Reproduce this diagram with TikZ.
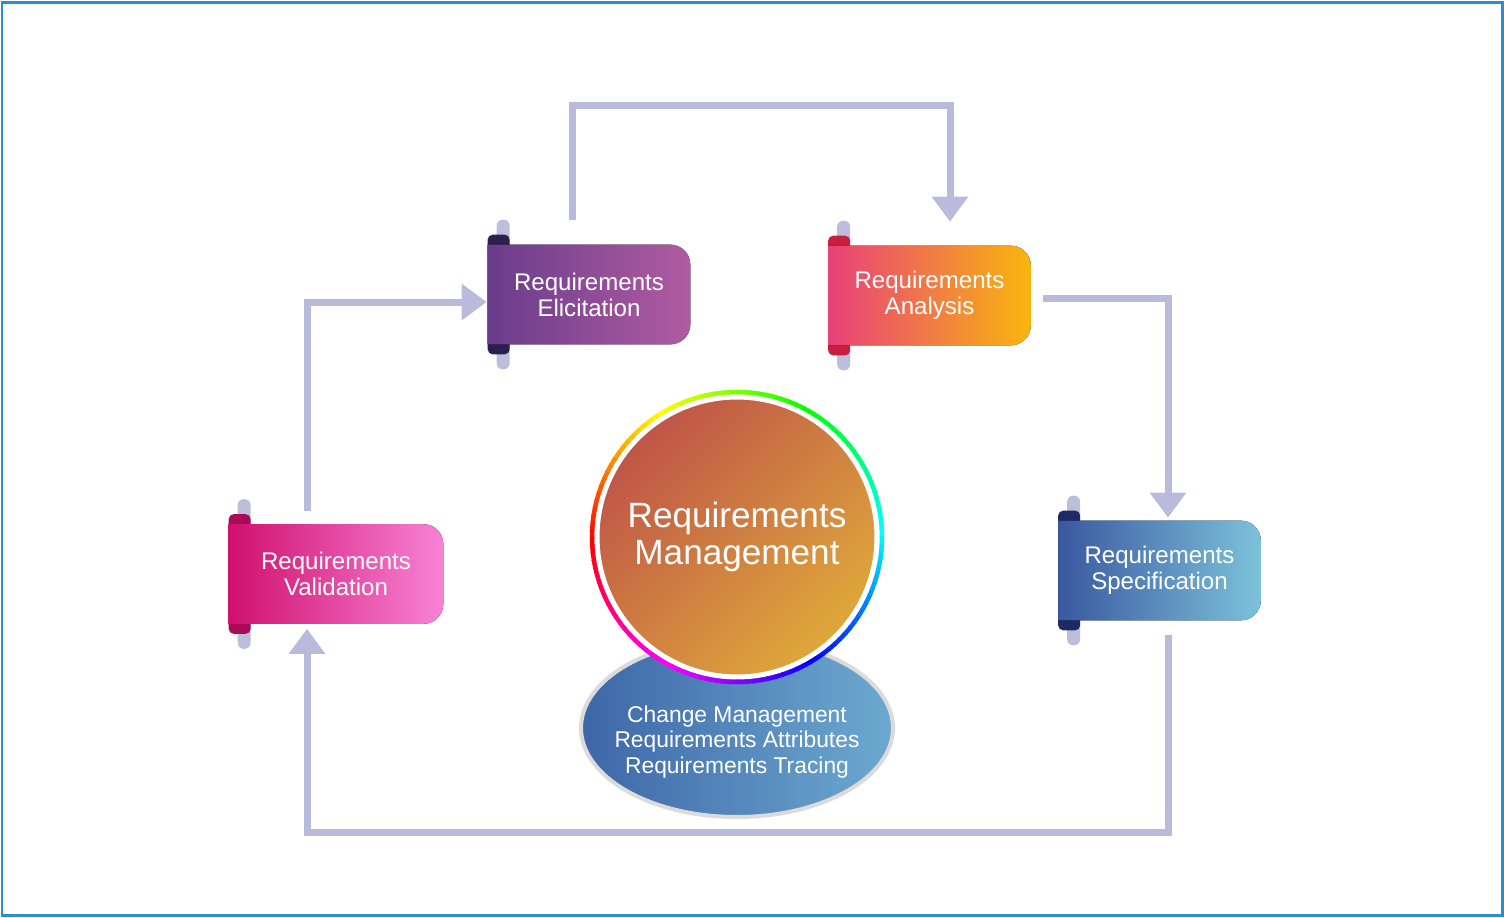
\documentclass[tikz,border=0pt]{standalone}
\usepackage{fontspec}
\setmainfont{Liberation Sans}
\usetikzlibrary{arrows.meta,shapes.geometric,backgrounds}
\definecolor{flowc}{HTML}{B9BADC}
\definecolor{barc}{HTML}{BDBEDC}
\definecolor{framec}{HTML}{2A8FCA}
\definecolor{elicL}{HTML}{6A3C8C}\definecolor{elicR}{HTML}{B05CA0}\definecolor{elicT}{HTML}{2C1F4E}
\definecolor{anaL}{HTML}{E8407A}\definecolor{anaR}{HTML}{F9B60E}\definecolor{anaT}{HTML}{C81E40}
\definecolor{specL}{HTML}{3A58A0}\definecolor{specR}{HTML}{7CC2DA}\definecolor{specT}{HTML}{1E2A66}
\definecolor{valiL}{HTML}{D0106E}\definecolor{valiR}{HTML}{F882D6}\definecolor{valiT}{HTML}{A80C58}
\definecolor{coreA}{HTML}{BF5548}\definecolor{coreB}{HTML}{DFA83A}
\definecolor{subL}{HTML}{3E66A8}\definecolor{subR}{HTML}{6CAAD0}

% ribbon shape behind a stage node: name, left colour, right colour, tab colour
\newcommand\stageshape[4]{%
  \fill[barc, rounded corners=0.12cm] ([xshift=0.18cm,yshift=0.5cm]#1.north west) rectangle ([xshift=0.44cm,yshift=-0.5cm]#1.south west);
  \fill[#4, rounded corners=0.1cm] ([yshift=0.2cm]#1.north west) rectangle ([xshift=0.44cm,yshift=-0.2cm]#1.south west);
  \fill[left color=#2, right color=#3] (#1.north west) -- ([xshift=-0.4cm]#1.north east)
    arc[start angle=90, end angle=0, radius=0.4cm] -- ([yshift=0.4cm]#1.south east)
    arc[start angle=0, end angle=-90, radius=0.4cm] -- (#1.south west) -- cycle;
}

\begin{document}
\begin{tikzpicture}[x=0.02cm, y=-0.02cm,
    stage/.style={minimum width=4.04cm, minimum height=1.98cm, inner sep=0pt, align=center,
      text=white, font=\fontsize{13.7}{14.7}\selectfont},
    flow/.style={draw=flowc, line width=0.14cm, -{Triangle[width=0.7cm, length=0.5cm]}}]
  \useasboundingbox (0,0) rectangle (1504,917);
  \draw[framec, line width=0.06cm] (2,2) rectangle (1502,915);

  % stages
  \node[stage] (elic) at (589,294.5) {Requirements\\Elicitation};
  \node[stage] (ana) at (929.5,295.5) {Requirements\\Analysis};
  \node[stage] (spec) at (1159.5,570.5) {Requirements\\Specification};
  \node[stage, minimum width=4.28cm] (vali) at (336,574) {Requirements\\Validation};
  \begin{scope}[on background layer]
    \stageshape{elic}{elicL}{elicR}{elicT}
    \stageshape{ana}{anaL}{anaR}{anaT}
    \stageshape{spec}{specL}{specR}{specT}
    \stageshape{vali}{valiL}{valiR}{valiT}
  \end{scope}

  % centre
  \node[ellipse, minimum width=6.24cm, minimum height=3.56cm, draw=black!14, line width=0.08cm,
    left color=subL, right color=subR] (sub) at (737,728) {};
  \node[text=white, align=center, font=\fontsize{13}{14.7}\selectfont] (subtext) at (737,742)
    {Change Management\\Requirements Attributes\\Requirements Tracing};
  \node[circle, minimum size=5.6cm, draw=white, line width=0.1cm, left color=coreA, right color=coreB,
    shading angle=45, text=white, align=center, font=\fontsize{20}{21.5}\selectfont] (core) at (737,537)
    {Requirements\\Management};
  \foreach \a in {0,3,...,357} {
    \pgfmathsetmacro\h{mod(540-\a,360)}
    \definecolor{ringc}{Hsb}{\h,1,1}
    \draw[ringc, line width=0.09cm] (core.center) ++(\a:2.9cm) arc[start angle=\a, delta angle=3.6, radius=2.9cm];
  }

  % cycle
  \draw[flow] ([xshift=-0.34cm,yshift=0.5cm]elic.north) -- ++(0,-114) -| ([xshift=0.41cm,yshift=0.48cm]ana.north);
  \draw[flow] ([xshift=0.24cm,yshift=-0.05cm]ana.east) -| ([xshift=0.17cm,yshift=0.06cm]spec.north);
  \draw[flow] ([xshift=0.17cm,yshift=-0.3cm]spec.south) -- ++(0,197) -| ([xshift=-0.58cm,yshift=-0.1cm]vali.south);
  \draw[flow] ([xshift=-0.58cm,yshift=0.26cm]vali.north) |- ([xshift=-0.02cm,yshift=-0.15cm]elic.west);
\end{tikzpicture}
\end{document}
